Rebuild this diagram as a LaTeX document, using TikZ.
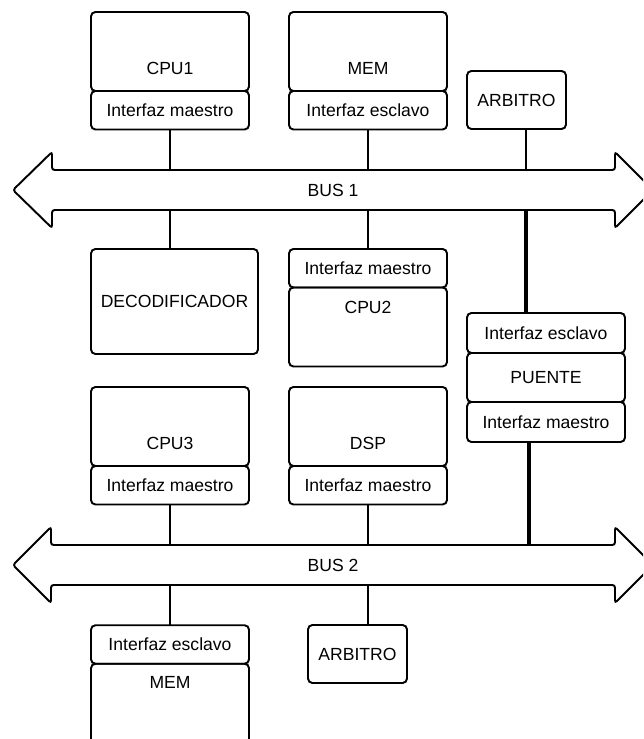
\documentclass[tikz,border=0pt]{standalone}
\usepackage{fontspec}
\setmainfont{Liberation Sans}
\usetikzlibrary{positioning}

\begin{document}
\begin{tikzpicture}
[x=0.02cm,y=-0.02cm,font=\fontsize{10}{12}\selectfont,
  box node/.style={rectangle,draw,line width=1.1pt,rounded corners=2.5pt,
    minimum width=3.16cm,inner sep=0pt,outer sep=0pt},
  main node/.style={box node,minimum height=1.58cm},
  if node/.style={box node,minimum height=0.77cm},
  arb node/.style={box node,minimum width=1.98cm,minimum height=1.16cm},
  empt node/.style={inner sep=0pt,outer sep=0pt},
  bus shape/.style={draw,line width=1.1pt,rounded corners=1.5pt,fill=white},
  wire/.style={line width=1pt},
  thick wire/.style={line width=2.2pt}]

    \useasboundingbox (0,0) rectangle (643,739);
    \clip (0,0) rectangle (643,739);

    % buses
    \draw[bus shape] (13,190) -- (52,152) -- (52,170) -- (615,170) -- (615,152)
      -- (653,190) -- (615,228) -- (615,210) -- (52,210) -- (52,228) -- cycle;
    \node [empt node] (bus1) at (333,190) {BUS 1};
    \coordinate (b1n) at (333,170);
    \coordinate (b1s) at (333,210);

    \draw[bus shape] (13,565) -- (51,527) -- (51,545) -- (615,545) -- (615,527)
      -- (653,565) -- (615,603) -- (615,585) -- (51,585) -- (51,603) -- cycle;
    \node [empt node] (bus2) at (333,565) {BUS 2};
    \coordinate (b2n) at (333,545);
    \coordinate (b2s) at (333,585);

    % above bus 1
    \node [main node] (cpu1) at (170,51.5) {};
    \node [if node] (cpu1if) [below=0cm of cpu1] {Interfaz maestro};
    \node [empt node] (cpu1t) at (170,68.5) {CPU1};
    \node [main node] (mem1) at (368,51.5) {};
    \node [if node] (mem1if) [below=0cm of mem1] {Interfaz esclavo};
    \node [empt node] (mem1t) at (368,68.5) {MEM};
    \node [arb node] (arb1) at (516.5,100) {ARBITRO};

    % between the buses
    \node [box node,minimum width=3.34cm,minimum height=2.1cm] (decod) at (174.5,301.5) {DECODIFICADOR};
    \node [if node] (cpu2if) at (368,268.25) {Interfaz maestro};
    \node [main node] (cpu2) [below=0cm of cpu2if] {};
    \node [empt node] (cpu2t) at (368,307) {CPU2};
    \node [if node,minimum height=0.8cm] (pteif1) at (546,333) {Interfaz esclavo};
    \node [box node,minimum height=0.98cm] (puente) [below=0cm of pteif1] {PUENTE};
    \node [if node,minimum height=0.8cm] (pteif2) [below=0cm of puente] {Interfaz maestro};
    \node [main node] (cpu3) at (170,426.5) {};
    \node [if node] (cpu3if) [below=0cm of cpu3] {Interfaz maestro};
    \node [empt node] (cpu3t) at (170,443) {CPU3};
    \node [main node] (dsp) at (368,426.5) {};
    \node [if node] (dspif) [below=0cm of dsp] {Interfaz maestro};
    \node [empt node] (dspt) at (368,443) {DSP};

    % below bus 2
    \node [if node] (mem2if) at (170,644.5) {Interfaz esclavo};
    \node [box node,minimum height=2.5cm] (mem2) [below=0cm of mem2if] {};
    \node [empt node] (mem2t) at (170,682) {MEM};
    \node [arb node] (arb2) at (357.5,654) {ARBITRO};

    \draw[wire] (cpu1if) -- (cpu1if |- b1n);
    \draw[wire] (mem1if) -- (mem1if |- b1n);
    \draw[wire] ([xshift=0.19cm]arb1.south) -- ([xshift=0.19cm]arb1.south |- b1n);
    \draw[wire] (cpu1if |- b1s) -- (cpu1if |- decod.north);
    \draw[wire] (cpu2if) -- (cpu2if |- b1s);
    \draw[thick wire] ([xshift=-0.4cm]pteif1.north) -- ([xshift=-0.4cm]pteif1.north |- b1s);
    \draw[thick wire] ([xshift=-0.34cm]pteif2.south) -- ([xshift=-0.34cm]pteif2.south |- b2n);
    \draw[wire] (cpu3if) -- (cpu3if |- b2n);
    \draw[wire] (dspif) -- (dspif |- b2n);
    \draw[wire] (mem2if) -- (mem2if |- b2s);
    \draw[wire] ([xshift=0.21cm]arb2.north) -- ([xshift=0.21cm]arb2.north |- b2s);
\end{tikzpicture}
\end{document}
